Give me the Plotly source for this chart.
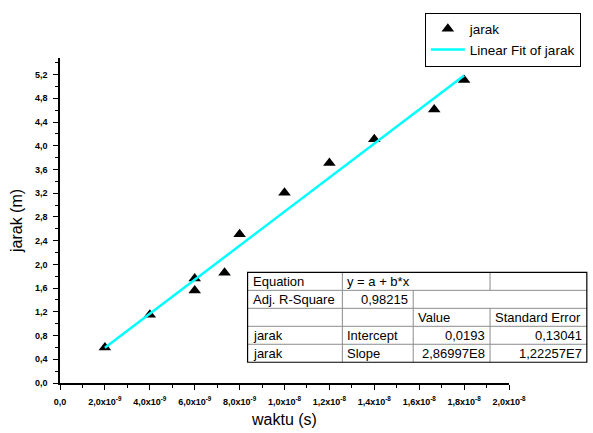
import plotly.graph_objects as go

# ---- data ----
waktu = [2e-9, 4e-9, 6e-9, 6e-9, 7.33e-9, 8e-9, 1e-8, 1.2e-8, 1.4e-8, 1.667e-8, 1.8e-8]
jarak = [0.60, 1.15, 1.76, 1.56, 1.86, 2.51, 3.21, 3.71, 4.11, 4.61, 5.11]
intercept = 0.0193
slope = 2.86997e8
fit_x = [2e-9, 1.8e-8]
fit_y = [intercept + slope * v for v in fit_x]

x_tickvals = [0, 2e-9, 4e-9, 6e-9, 8e-9, 1e-8, 1.2e-8, 1.4e-8, 1.6e-8, 1.8e-8, 2e-8]
x_ticktext = ["0,0", "2,0x10<sup>-9</sup>", "4,0x10<sup>-9</sup>", "6,0x10<sup>-9</sup>",
              "8,0x10<sup>-9</sup>", "1,0x10<sup>-8</sup>", "1,2x10<sup>-8</sup>",
              "1,4x10<sup>-8</sup>", "1,6x10<sup>-8</sup>", "1,8x10<sup>-8</sup>",
              "2,0x10<sup>-8</sup>"]
x_minor = [1e-9, 3e-9, 5e-9, 7e-9, 9e-9, 1.1e-8, 1.3e-8, 1.5e-8, 1.7e-8, 1.9e-8]
y_tickvals = [0, 0.4, 0.8, 1.2, 1.6, 2.0, 2.4, 2.8, 3.2, 3.6, 4.0, 4.4, 4.8, 5.2]
y_ticktext = ["0,0", "0,4", "0,8", "1,2", "1,6", "2,0", "2,4", "2,8", "3,2", "3,6",
              "4,0", "4,4", "4,8", "5,2"]
y_minor = [0.2, 0.6, 1.0, 1.4, 1.8, 2.2, 2.6, 3.0, 3.4, 3.8, 4.2, 4.6, 5.0, 5.4]

table_rows = [
    ["Equation", "y = a + b*x", "", ""],
    ["Adj. R-Square", "0,98215", "", ""],
    ["", "", "Value", "Standard Error"],
    ["jarak", "Intercept", "0,0193", "0,13041"],
    ["jarak", "Slope", "2,86997E8", "1,22257E7"],
]
table_align = [
    ["left", "left", "left", "left"],
    ["left", "right", "left", "left"],
    ["left", "left", "left", "left"],
    ["left", "left", "right", "right"],
    ["left", "left", "right", "right"],
]

# ---- layout geometry (pixels) ----
W, H = 593, 433
ML, MR, MT, MB = 60, 83, 54, 50
PW, PH = W - ML - MR, H - MT - MB

def px(xp):
    return (xp - ML) / PW

def py(yp):
    return (H - MB - yp) / PH

FONT = "Liberation Sans, Arial, sans-serif"

fig = go.Figure()
fig.add_trace(go.Scatter(x=waktu, y=jarak, mode="markers", name="jarak",
                         marker=dict(symbol="triangle-up", size=11, color="black")))
fig.add_trace(go.Scatter(x=fit_x, y=fit_y, mode="lines", name="Linear Fit of jarak",
                         line=dict(color="#00FFFF", width=2.5)))

# table
col_x = [248, 343, 414, 491, 588]
row_y = [271, 289.2, 307.4, 325.6, 343.8, 362]
shapes = []
anns = []
grey = "#8c8c8c"
for r in range(1, 5):
    shapes.append(dict(type="line", xref="paper", yref="paper",
                       x0=px(col_x[0]), x1=px(col_x[4]), y0=py(row_y[r]), y1=py(row_y[r]),
                       line=dict(color=grey, width=1)))
for c in range(1, 4):
    for r in range(5):
        if c == 2 and r == 0:
            continue
        if c == 3 and r == 1:
            continue
        shapes.append(dict(type="line", xref="paper", yref="paper",
                           x0=px(col_x[c]), x1=px(col_x[c]), y0=py(row_y[r]), y1=py(row_y[r + 1]),
                           line=dict(color=grey, width=1)))
shapes.append(dict(type="rect", xref="paper", yref="paper",
                   x0=px(col_x[0]), x1=px(col_x[4]), y0=py(row_y[0]), y1=py(row_y[5]),
                   line=dict(color="black", width=1.2)))
for r, row in enumerate(table_rows):
    for c, txt in enumerate(row):
        if not txt:
            continue
        al = table_align[r][c]
        if al == "left":
            xa, xan = px(col_x[c] + 3), "left"
        else:
            xa, xan = px(col_x[c + 1] - 3), "right"
        anns.append(dict(text=txt, xref="paper", yref="paper", x=xa, xanchor=xan,
                         y=py((row_y[r] + row_y[r + 1]) / 2), yanchor="middle",
                         showarrow=False, font=dict(family=FONT, size=13, color="black")))

fig.update_layout(
    width=W, height=H, margin=dict(l=ML, r=MR, t=MT, b=MB),
    paper_bgcolor="white", plot_bgcolor="white",
    font=dict(family=FONT, color="black"),
    shapes=shapes, annotations=anns,
    legend=dict(x=px(582), xanchor="right", y=py(8), yanchor="top",
                bordercolor="black", borderwidth=1, bgcolor="white",
                font=dict(family=FONT, size=13.5), tracegroupgap=0,
                itemwidth=34),
    xaxis=dict(range=[0, 2e-8], tickmode="array", tickvals=x_tickvals, ticktext=x_ticktext,
               showgrid=False, zeroline=False, showline=True, linecolor="black", linewidth=1.5,
               ticks="outside", ticklen=5, tickwidth=1.2, tickcolor="black",
               tickfont=dict(family=FONT, size=9, weight="bold"), ticklabelstandoff=4,
               minor=dict(tickvals=x_minor, ticks="outside", ticklen=3, tickwidth=1, tickcolor="black"),
               title=dict(text="waktu (s)", font=dict(family=FONT, size=16), standoff=8),
               automargin=False),
    yaxis=dict(range=[0, 5.48], tickmode="array", tickvals=y_tickvals, ticktext=y_ticktext,
               showgrid=False, zeroline=False, showline=True, linecolor="black", linewidth=1.5,
               ticks="outside", ticklen=5, tickwidth=1.2, tickcolor="black",
               tickfont=dict(family=FONT, size=9, weight="bold"), ticklabelstandoff=4,
               minor=dict(tickvals=y_minor, ticks="outside", ticklen=3, tickwidth=1, tickcolor="black"),
               title=dict(text="jarak (m)", font=dict(family=FONT, size=16), standoff=8),
               automargin=False),
)
fig.write_html("out.html")
